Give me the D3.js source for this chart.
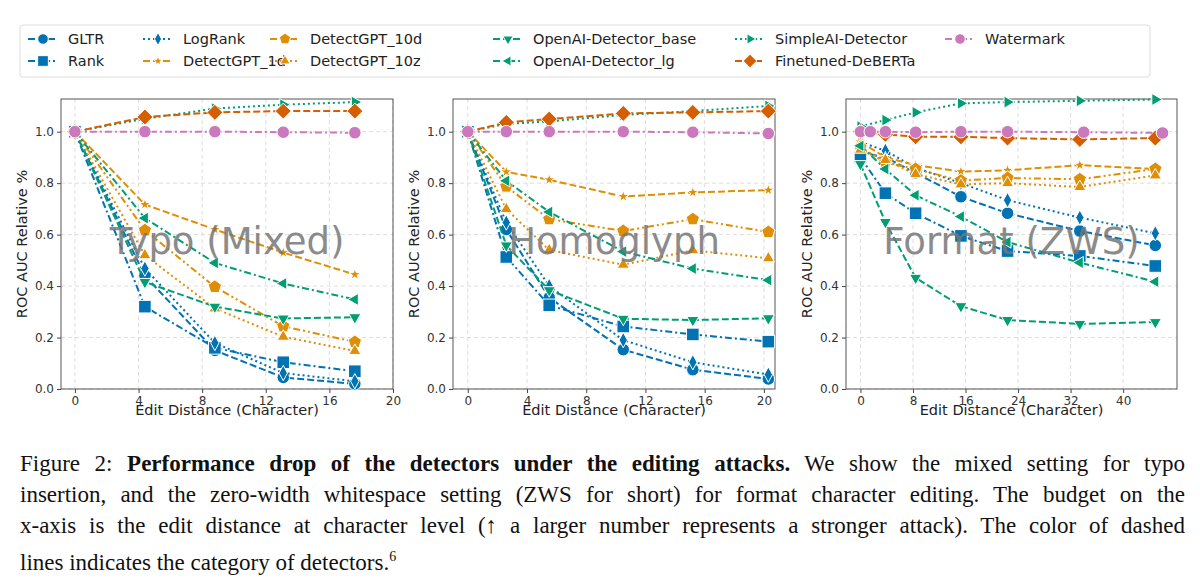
<!DOCTYPE html>
<html lang='en'>
<head>
<meta charset='UTF-8'>
<title>Figure 2</title>
<style>
body { margin: 0; background: #fff; }
.cap { position: absolute; left: 20px; top: 448px; width: 1165px; font-family: 'Liberation Serif', serif; font-size: 23px; line-height: 31px; color: #111; }
.cap div { text-align: justify; text-align-last: justify; white-space: nowrap; }
.cap div.last { text-align-last: left; }
</style>
</head>
<body>
<svg id='graph' width='1200' height='440'></svg>
<div class='cap'>
<div>Figure 2: <b>Performance drop of the detectors under the editing attacks.</b> We show the mixed setting for typo</div>
<div>insertion, and the zero-width whitespace setting (ZWS for short) for format character editing. The budget on the</div>
<div>x-axis is the edit distance at character level (↑ a larger number represents a stronger attack). The color of dashed</div>
<div class='last'>lines indicates the category of detectors.<sup style='font-size:14px'>6</sup></div>
</div>
<script src='https://d3js.org/d3.v7.min.js'></script>
<script>
const detectors = ['GLTR', 'Rank', 'LogRank', 'DetectGPT_1d', 'DetectGPT_10d', 'DetectGPT_10z',
	'OpenAI-Detector_base', 'OpenAI-Detector_lg', 'SimpleAI-Detector', 'Finetuned-DeBERTa', 'Watermark']

const typoX = [0, 4.4, 8.8, 13.1, 17.6]
const typo = {
	'GLTR': [1, 0.44, 0.15, 0.045, 0.02],
	'Rank': [1, 0.32, 0.16, 0.104, 0.069],
	'LogRank': [1, 0.468, 0.179, 0.062, 0.03],
	'DetectGPT_1d': [1, 0.717, 0.62, 0.53, 0.445],
	'DetectGPT_10d': [1, 0.617, 0.397, 0.244, 0.183],
	'DetectGPT_10z': [1, 0.52, 0.313, 0.203, 0.148],
	'OpenAI-Detector_base': [1, 0.416, 0.32, 0.274, 0.279],
	'OpenAI-Detector_lg': [1, 0.664, 0.49, 0.41, 0.348],
	'SimpleAI-Detector': [1, 1.05, 1.09, 1.105, 1.115],
	'Finetuned-DeBERTa': [1, 1.057, 1.075, 1.08, 1.08],
	'Watermark': [1, 1.0, 1.0, 0.998, 0.996]
}

const homoX = [0, 2.6, 5.5, 10.5, 15.2, 20.3]
const homo = {
	'GLTR': [1, 0.62, 0.355, 0.153, 0.075, 0.039],
	'Rank': [1, 0.513, 0.325, 0.243, 0.212, 0.184],
	'LogRank': [1, 0.647, 0.4, 0.19, 0.104, 0.056],
	'DetectGPT_1d': [1, 0.844, 0.813, 0.748, 0.764, 0.773],
	'DetectGPT_10d': [1, 0.787, 0.66, 0.614, 0.66, 0.61],
	'DetectGPT_10z': [1, 0.699, 0.54, 0.483, 0.539, 0.508],
	'OpenAI-Detector_base': [1, 0.558, 0.384, 0.273, 0.268, 0.275],
	'OpenAI-Detector_lg': [1, 0.809, 0.688, 0.534, 0.468, 0.423],
	'SimpleAI-Detector': [1, 1.03, 1.04, 1.065, 1.08, 1.1],
	'Finetuned-DeBERTa': [1, 1.036, 1.049, 1.071, 1.075, 1.08],
	'Watermark': [1, 1, 1, 1, 0.998, 0.993]
}

const zwsX = [0, 3.8, 8.4, 15.3, 22.4, 33.4, 44.9]
const zwsWatermarkX = [0, 1.5, 3.8, 8.4, 15.3, 22.4, 34, 46]
const zws = {
	'GLTR': [0.92, 0.9, 0.84, 0.747, 0.683, 0.614, 0.558],
	'Rank': [0.9, 0.761, 0.683, 0.595, 0.536, 0.517, 0.478],
	'LogRank': [0.96, 0.926, 0.86, 0.8, 0.734, 0.666, 0.605],
	'DetectGPT_1d': [0.96, 0.9, 0.87, 0.845, 0.85, 0.87, 0.855],
	'DetectGPT_10d': [0.94, 0.88, 0.855, 0.81, 0.82, 0.815, 0.855],
	'DetectGPT_10z': [0.93, 0.89, 0.835, 0.795, 0.8, 0.785, 0.83],
	'OpenAI-Detector_base': [0.874, 0.649, 0.432, 0.322, 0.268, 0.253, 0.26],
	'OpenAI-Detector_lg': [0.945, 0.855, 0.753, 0.67, 0.571, 0.491, 0.417],
	'SimpleAI-Detector': [1.02, 1.045, 1.075, 1.11, 1.115, 1.12, 1.125],
	'Finetuned-DeBERTa': [1.0, 0.99, 0.98, 0.98, 0.975, 0.97, 0.975],
	'Watermark': [1, 1, 1, 0.998, 1, 1, 0.998, 0.995]
}

const blue = '#0173b2', orange = '#de8f05', green = '#029e73', red = '#d55e00', pink = '#cc78bc'
const styles = {
	'GLTR': [blue, '7,3', 'circle', 7],
	'Rank': [blue, '7,3,2,3', 'square', 7],
	'LogRank': [blue, '2,3', 'diamond', 7],
	'DetectGPT_1d': [orange, '7,3', 'star', 6],
	'DetectGPT_10d': [orange, '7,3,2,3,2,3', 'pentagon', 7],
	'DetectGPT_10z': [orange, '2,3', 'up', 7],
	'OpenAI-Detector_base': [green, '7,3', 'down', 7],
	'OpenAI-Detector_lg': [green, '7,3,2,3', 'left', 7],
	'SimpleAI-Detector': [green, '2,3', 'right', 7],
	'Finetuned-DeBERTa': [red, '7,3', 'bigdiamond', 8],
	'Watermark': [pink, '7,3,2,3', 'circle', 7]
}

function markerPath(kind, r) {
	const tri = (a) => d3.range(3).map((i) => [r * Math.cos(a + i * 2 * Math.PI / 3), r * Math.sin(a + i * 2 * Math.PI / 3)])
	const poly = (pts) => 'M' + pts.map((p) => p.join(',')).join('L') + 'Z'
	if (kind === 'circle') return d3.symbol(d3.symbolCircle, Math.PI * r * r * 0.8)()
	if (kind === 'square') return `M${-r * 0.9},${-r * 0.9}H${r * 0.9}V${r * 0.9}H${-r * 0.9}Z`
	if (kind === 'diamond') return poly([[0, -r * 1.1], [r * 0.6, 0], [0, r * 1.1], [-r * 0.6, 0]])
	if (kind === 'bigdiamond') return poly([[0, -r], [r, 0], [0, r], [-r, 0]])
	if (kind === 'star') return d3.symbol(d3.symbolStar, r * r * 1.2)()
	if (kind === 'pentagon') return poly(d3.range(5).map((i) => [r * Math.sin(i * 2 * Math.PI / 5), -r * Math.cos(i * 2 * Math.PI / 5)]))
	if (kind === 'up') return poly(tri(-Math.PI / 2))
	if (kind === 'down') return poly(tri(Math.PI / 2))
	if (kind === 'left') return poly(tri(Math.PI))
	if (kind === 'right') return poly(tri(0))
}

const svg = d3.select('#graph')
const font = 'DejaVu Sans, sans-serif'

const panels = [
	{ left: 61, right: 393, xDom: [-0.875, 20], ticks: [0, 4, 8, 12, 16, 20], xs: typoX, data: typo, title: 'Typo (Mixed)' },
	{ left: 453, right: 775, xDom: [-1.0, 20.75], ticks: [0, 4, 8, 12, 16, 20], xs: homoX, data: homo, title: 'Homoglyph' },
	{ left: 846, right: 1177, xDom: [-2.2, 48.2], ticks: [0, 8, 16, 24, 32, 40], xs: zwsX, data: zws, title: 'Format (ZWS)' }
]
const plotTop = 99, plotBottom = 389

panels.forEach((p, pi) => {
	const g = svg.append('g')
	const xScale = d3.scaleLinear().domain(p.xDom).range([p.left, p.right])
	const yScale = d3.scaleLinear().domain([0, 1.127]).range([plotBottom, plotTop])
	const clipId = 'clip' + pi
	svg.append('clipPath').attr('id', clipId).append('rect')
		.attr('x', p.left - 8).attr('y', plotTop - 8).attr('width', p.right - p.left + 16).attr('height', plotBottom - plotTop + 16)

	// grid
	g.selectAll('.gx').data(p.ticks).enter().append('line')
		.attr('x1', (d) => xScale(d)).attr('x2', (d) => xScale(d)).attr('y1', plotTop).attr('y2', plotBottom)
		.attr('stroke', '#ddd').attr('stroke-dasharray', '4,3')
	g.selectAll('.gy').data(d3.range(0, 1.01, 0.2)).enter().append('line')
		.attr('x1', p.left).attr('x2', p.right).attr('y1', (d) => yScale(d)).attr('y2', (d) => yScale(d))
		.attr('stroke', '#ddd').attr('stroke-dasharray', '4,3')

	const xAxis = d3.axisBottom(xScale).tickValues(p.ticks).tickSize(4)
	const yAxis = d3.axisLeft(yScale).tickValues(d3.range(0, 1.01, 0.2)).tickFormat(d3.format('.1f')).tickSize(4)
	const ax = g.append('g').attr('transform', `translate(0, ${plotBottom})`).call(xAxis)
	const ay = g.append('g').attr('transform', `translate(${p.left}, 0)`).call(yAxis)
	;[ax, ay].forEach((a) => {
		a.select('.domain').remove()
		a.selectAll('line').attr('stroke', '#444')
		a.selectAll('text').attr('font-family', font).attr('font-size', 12).attr('fill', '#333')
	})
	g.append('rect').attr('x', p.left).attr('y', plotTop).attr('width', p.right - p.left).attr('height', plotBottom - plotTop)
		.attr('fill', 'none').attr('stroke', '#555').attr('stroke-width', 1)

	g.append('text').attr('x', (p.left + p.right) / 2).attr('y', 415).attr('text-anchor', 'middle')
		.attr('font-family', font).attr('font-size', 14.5).attr('fill', '#222').text('Edit Distance (Character)')
	g.append('text').attr('transform', `translate(${p.left - 34}, ${(plotTop + plotBottom) / 2}) rotate(-90)`)
		.attr('text-anchor', 'middle').attr('font-family', font).attr('font-size', 14.5).attr('fill', '#222')
		.text('ROC AUC Relative %')

	const plot = g.append('g').attr('clip-path', `url(#${clipId})`)
	detectors.forEach((name) => {
		const [color, dash, kind, r] = styles[name]
		const xs = (pi === 2 && name === 'Watermark') ? zwsWatermarkX : p.xs
		const pts = p.data[name].map((v, i) => [xs[i], v])
		const line = d3.line().x((d) => xScale(d[0])).y((d) => yScale(d[1]))
		plot.append('path').datum(pts).attr('d', line).attr('fill', 'none')
			.attr('stroke', color).attr('stroke-width', 2).attr('stroke-dasharray', dash)
		plot.selectAll(null).data(pts).enter().append('path')
			.attr('transform', (d) => `translate(${xScale(d[0])},${yScale(d[1])})`)
			.attr('d', markerPath(kind, r)).attr('fill', color).attr('stroke', '#fff').attr('stroke-width', 1)
	})

	g.append('text').attr('x', (p.left + p.right) / 2).attr('y', 254).attr('text-anchor', 'middle')
		.attr('font-family', font).attr('font-size', 37).attr('fill', '#777').attr('opacity', 0.85).text(p.title)
})

// legend
const legendCols = [['GLTR', 'Rank'], ['LogRank', 'DetectGPT_1d'], ['DetectGPT_10d', 'DetectGPT_10z'],
	['OpenAI-Detector_base', 'OpenAI-Detector_lg'], ['SimpleAI-Detector', 'Finetuned-DeBERTa'], ['Watermark']]
const colX = [48, 163, 290, 513, 755, 965]
svg.append('rect').attr('x', 20).attr('y', 25).attr('width', 1130).attr('height', 52).attr('rx', 3)
	.attr('fill', '#fff').attr('stroke', '#ddd')
legendCols.forEach((col, ci) => {
	col.forEach((name, ri) => {
		const [color, dash, kind, r] = styles[name]
		const y = 39 + ri * 22
		const lg = svg.append('g').attr('transform', `translate(${colX[ci]}, ${y})`)
		lg.append('line').attr('x1', -20).attr('x2', 10).attr('stroke', color).attr('stroke-width', 2)
			.attr('stroke-dasharray', dash)
		lg.append('path').attr('transform', 'translate(-5,0)').attr('d', markerPath(kind, r * 0.85))
			.attr('fill', color).attr('stroke', '#fff').attr('stroke-width', 1)
		lg.append('text').attr('x', 20).attr('y', 5).attr('font-family', font).attr('font-size', 14.5)
			.attr('fill', '#222').text(name)
	})
})
</script>
</body>
</html>
